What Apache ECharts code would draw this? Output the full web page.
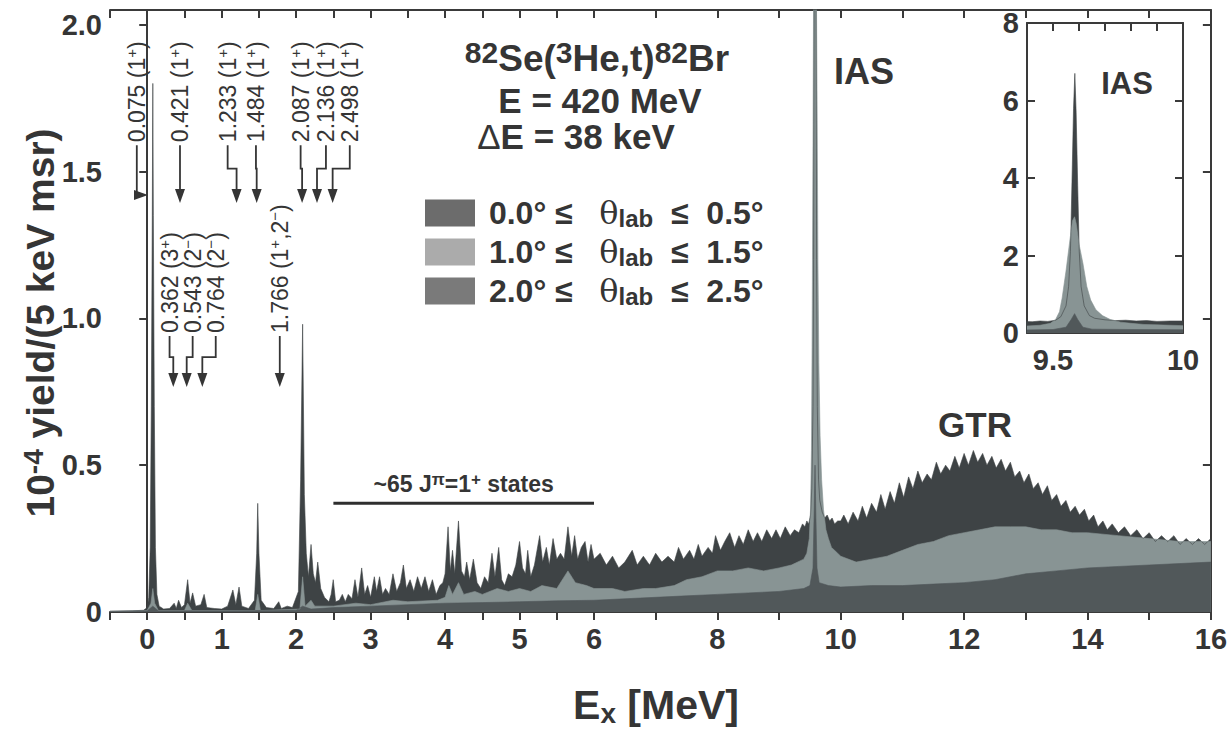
<!DOCTYPE html>
<html>
<head>
<meta charset="utf-8">
<script src="https://cdn.jsdelivr.net/npm/echarts@6/dist/echarts.min.js"></script>
<style>html,body{margin:0;background:#fff}#chart{width:1230px;height:730px}</style>
</head>
<body>
<div id="chart"></div>
<script>
// 82Se(3He,t)82Br spectra, three angle cuts, [Ex MeV, yield in 1e-4 /(5 keV msr)]
var angleBins = ['0.0° ≤ θlab ≤ 0.5°', '1.0° ≤ θlab ≤ 1.5°', '2.0° ≤ θlab ≤ 2.5°'];

var yield00 = [
  [-0.5,0.003],[-0.2,0.004],[-0.05,0.006],[0.0,0.015],[0.02,0.05],[0.04,0.22],[0.055,0.7],[0.068,1.35],[0.075,1.8],[0.082,1.35],[0.095,0.7],[0.11,0.22],[0.13,0.06],[0.16,0.02],[0.22,0.01],[0.3,0.012],
  [0.362,0.03],[0.39,0.012],[0.421,0.04],[0.46,0.015],[0.5,0.025],[0.543,0.11],[0.575,0.03],[0.61,0.065],[0.65,0.02],[0.72,0.025],[0.764,0.06],[0.8,0.015],[0.9,0.012],[1.0,0.01],[1.08,0.02],
  [1.15,0.075],[1.19,0.025],[1.233,0.085],[1.27,0.02],[1.36,0.012],[1.44,0.04],[1.47,0.2],[1.484,0.37],[1.5,0.2],[1.53,0.04],[1.6,0.015],[1.7,0.012],[1.766,0.035],[1.8,0.012],[1.88,0.02],
  [1.95,0.015],[2.03,0.07],[2.06,0.45],[2.087,0.98],[2.11,0.4],[2.136,0.2],[2.165,0.12],[2.2,0.23],[2.23,0.13],[2.26,0.1],[2.29,0.17],[2.33,0.08],[2.38,0.05],[2.44,0.035],[2.47,0.06],
  [2.498,0.11],[2.53,0.035],[2.58,0.04],[2.62,0.06],[2.66,0.035],[2.7,0.06],[2.75,0.045],[2.79,0.11],[2.83,0.05],[2.88,0.15],[2.92,0.06],[2.96,0.09],[3.0,0.05],[3.05,0.12],[3.08,0.07],
  [3.12,0.12],[3.16,0.06],[3.2,0.08],[3.25,0.06],[3.3,0.13],[3.35,0.07],[3.4,0.1],[3.44,0.16],[3.48,0.08],[3.53,0.11],[3.58,0.07],[3.63,0.12],[3.68,0.08],[3.73,0.12],[3.78,0.07],[3.83,0.11],
  [3.88,0.06],[3.93,0.09],[3.97,0.1],[4.0,0.13],[4.04,0.29],[4.07,0.14],[4.1,0.21],[4.13,0.13],[4.18,0.31],[4.22,0.14],[4.26,0.12],[4.29,0.17],[4.33,0.11],[4.38,0.18],[4.43,0.1],[4.48,0.08],
  [4.53,0.12],[4.58,0.1],[4.63,0.2],[4.67,0.12],[4.72,0.22],[4.76,0.11],[4.8,0.09],[4.85,0.13],[4.9,0.12],[4.95,0.16],[5.0,0.24],[5.04,0.15],[5.08,0.13],[5.11,0.21],[5.15,0.12],[5.2,0.16],
  [5.27,0.26],[5.31,0.17],[5.36,0.22],[5.4,0.16],[5.45,0.25],[5.5,0.18],[5.55,0.2],[5.6,0.18],[5.65,0.29],[5.7,0.19],[5.74,0.26],[5.78,0.18],[5.83,0.22],[5.88,0.24],[5.92,0.17],[5.96,0.23],
  [6.0,0.18],[6.1,0.2],[6.2,0.16],[6.3,0.19],[6.4,0.15],[6.5,0.17],[6.62,0.21],[6.7,0.16],[6.8,0.19],[6.9,0.16],[7.0,0.2],[7.1,0.17],[7.2,0.19],[7.3,0.17],[7.37,0.22],[7.45,0.18],[7.55,0.21],
  [7.62,0.18],[7.69,0.23],[7.75,0.19],[7.85,0.22],[7.92,0.2],[7.97,0.26],[8.05,0.21],[8.12,0.24],[8.2,0.27],[8.28,0.22],[8.35,0.26],[8.42,0.23],[8.5,0.28],[8.58,0.24],[8.65,0.27],[8.72,0.24],
  [8.8,0.28],[8.88,0.25],[8.95,0.28],[9.02,0.25],[9.1,0.29],[9.18,0.26],[9.25,0.28],[9.32,0.27],[9.38,0.3],[9.42,0.29],[9.45,0.31],[9.48,0.3],[9.51,0.33],[9.53,0.42],[9.55,0.7],[9.56,1.2],
  [9.567,2.1],[9.573,3.9],[9.579,5.8],[9.584,6.7],[9.589,5.7],[9.595,3.8],[9.601,2.1],[9.608,1.2],[9.62,0.7],[9.64,0.45],[9.66,0.38],[9.7,0.34],[9.74,0.32],[9.78,0.33],[9.82,0.31],[9.86,0.32],
  [9.9,0.3],[9.95,0.31],[10.0,0.31],[10.05,0.33],[10.12,0.3],[10.2,0.34],[10.28,0.31],[10.35,0.36],[10.42,0.32],[10.5,0.37],[10.58,0.34],[10.65,0.4],[10.72,0.35],[10.8,0.41],[10.87,0.37],
  [10.95,0.44],[11.02,0.39],[11.1,0.46],[11.17,0.42],[11.25,0.48],[11.32,0.44],[11.4,0.47],[11.47,0.45],[11.55,0.51],[11.62,0.47],[11.7,0.5],[11.77,0.48],[11.85,0.53],[11.92,0.49],[12.0,0.54],
  [12.07,0.5],[12.15,0.55],[12.22,0.51],[12.3,0.54],[12.37,0.5],[12.45,0.53],[12.52,0.49],[12.6,0.52],[12.67,0.48],[12.75,0.51],[12.82,0.46],[12.9,0.48],[12.97,0.44],[13.05,0.47],[13.12,0.42],
  [13.2,0.44],[13.27,0.4],[13.35,0.43],[13.42,0.38],[13.5,0.4],[13.57,0.36],[13.65,0.38],[13.72,0.34],[13.8,0.36],[13.87,0.33],[13.95,0.35],[14.02,0.31],[14.1,0.33],[14.17,0.29],[14.25,0.31],
  [14.32,0.28],[14.4,0.3],[14.5,0.27],[14.6,0.29],[14.7,0.26],[14.8,0.28],[14.9,0.25],[15.0,0.27],[15.1,0.24],[15.2,0.26],[15.3,0.24],[15.4,0.26],[15.5,0.23],[15.6,0.25],[15.7,0.23],[15.8,0.25],
  [15.9,0.23],[16.0,0.25]
];

var yield10 = [
  [-0.5,0.002],[0.0,0.005],[0.05,0.03],[0.075,0.08],[0.1,0.03],[0.15,0.005],[0.5,0.005],[0.543,0.03],[0.6,0.005],[1.45,0.005],[1.484,0.06],[1.52,0.005],[2.05,0.01],[2.087,0.12],[2.12,0.02],
  [2.2,0.04],[2.25,0.02],[2.5,0.02],[2.8,0.03],[3.0,0.025],[3.3,0.04],[3.5,0.035],[3.9,0.04],[4.0,0.05],[4.05,0.09],[4.1,0.06],[4.18,0.1],[4.25,0.06],[4.4,0.07],[4.5,0.06],[4.7,0.08],
  [4.85,0.07],[5.0,0.08],[5.15,0.07],[5.3,0.09],[5.5,0.08],[5.65,0.14],[5.75,0.1],[5.9,0.09],[6.0,0.08],[6.3,0.08],[6.5,0.07],[6.8,0.08],[7.0,0.08],[7.3,0.09],[7.5,0.11],[7.75,0.12],
  [8.0,0.14],[8.25,0.14],[8.5,0.15],[8.75,0.14],[9.0,0.15],[9.2,0.16],[9.4,0.18],[9.45,0.2],[9.49,0.25],[9.51,0.35],[9.525,0.55],[9.535,0.9],[9.55,1.6],[9.565,2.4],[9.575,2.9],[9.583,3.0],
  [9.59,2.8],[9.6,2.3],[9.615,1.8],[9.63,1.2],[9.645,0.85],[9.665,0.6],[9.69,0.45],[9.72,0.35],[9.76,0.28],[9.8,0.25],[9.85,0.22],[9.9,0.21],[9.95,0.2],[10.0,0.19],[10.25,0.17],[10.5,0.18],
  [10.75,0.19],[11.0,0.21],[11.25,0.23],[11.5,0.24],[11.75,0.26],[12.0,0.27],[12.25,0.28],[12.5,0.29],[12.75,0.29],[13.0,0.29],[13.25,0.28],[13.5,0.28],[13.75,0.27],[14.0,0.27],[14.5,0.26],
  [15.0,0.25],[15.5,0.24],[16.0,0.24]
];

var yield20 = [
  [-0.5,0.001],[0.0,0.004],[0.075,0.02],[0.15,0.004],[1.0,0.004],[2.0,0.006],[2.087,0.02],[2.2,0.01],[2.5,0.015],[3.0,0.02],[3.5,0.025],[4.0,0.03],[4.5,0.032],[5.0,0.035],[5.5,0.038],
  [6.0,0.04],[6.5,0.045],[7.0,0.05],[7.5,0.055],[8.0,0.06],[8.5,0.065],[9.0,0.07],[9.4,0.08],[9.5,0.09],[9.55,0.15],[9.57,0.35],[9.583,0.5],[9.595,0.35],[9.615,0.15],[9.65,0.1],[9.8,0.09],
  [10.0,0.085],[10.5,0.09],[11.0,0.09],[11.5,0.095],[12.0,0.1],[12.5,0.11],[13.0,0.13],[13.5,0.14],[14.0,0.15],[14.5,0.155],[15.0,0.16],[15.5,0.165],[16.0,0.17]
];

// arrow annotations (energies of text column and arrow tip)
var upperLabels = ['0.075', '0.421', '1.233', '1.484', '2.087', '2.136', '2.498'];
var upperSpins = ['1+', '1+', '1+', '1+', '1+', '1+', '1+'];
var upperTextE = [-0.14, 0.44, 1.08, 1.46, 2.06, 2.40, 2.72];
var upperTipE = [0.01, 0.44, 1.2, 1.47, 2.08, 2.28, 2.49];
var lowerLabels = ['0.362', '0.543', '0.764', '1.766'];
var lowerSpins = ['3+', '2−', '2−', '1+,2−'];
var lowerTextE = [0.30, 0.61, 0.92, 1.78];
var lowerTipE = [0.35, 0.53, 0.74, 1.78];

var FONT = "'Liberation Sans', Arial, sans-serif";
var INK = '#353535';
var fills = ['#3e4345', '#889494', '#51585a'];
var swatches = ['#6c6c6c', '#ababab', '#7a7a7a'];
var allData = [yield00, yield10, yield20];

var chart = echarts.init(document.getElementById('chart'), null, {renderer: 'svg'});

function slice(data, lo, hi) {
  var out = [];
  for (var i = 0; i < data.length; i++) {
    var e = data[i][0];
    var prev = i > 0 ? data[i - 1][0] : -Infinity;
    var next = i < data.length - 1 ? data[i + 1][0] : Infinity;
    if ((e >= lo && e <= hi) || (e < lo && next > lo) || (e > hi && prev < hi)) out.push(data[i]);
  }
  return out;
}

var panels = [
  {xi: 0, yi: 0, lo: -0.5, hi: 6},
  {xi: 1, yi: 1, lo: 6, hi: 16},
  {xi: 4, yi: 2, lo: 9.4, hi: 10}
];
var series = [];
panels.forEach(function (p) {
  allData.forEach(function (d, k) {
    series.push({
      name: angleBins[k], type: 'line', xAxisIndex: p.xi, yAxisIndex: p.yi,
      data: slice(d, p.lo, p.hi), symbol: 'none', showSymbol: false, clip: true,
      sampling: null, silent: true, z: 3,
      lineStyle: {width: 0.6, color: fills[k]},
      itemStyle: {color: fills[k]},
      areaStyle: {color: fills[k], opacity: 1}
    });
  });
});

var lineCol = {color: '#3a3a3a', width: 2};
var labelBase = {fontSize: 29, fontWeight: 'bold', color: INK, fontFamily: FONT};

function xAx(grid, min, max, step, pos, fmt) {
  return {
    type: 'value', gridIndex: grid, min: min, max: max, interval: step, position: pos,
    axisLine: {show: true, onZero: false, lineStyle: lineCol},
    axisTick: {show: true, inside: pos === 'top' || grid === 2, length: 8, lineStyle: lineCol},
    axisLabel: fmt ? Object.assign({formatter: fmt, margin: 12}, labelBase) : {show: false},
    splitLine: {show: false}
  };
}

var option = {
  animation: false,
  backgroundColor: '#fff',
  grid: [
    {left: 110, top: 10, width: 484, height: 602},
    {left: 594, top: 10, width: 630, height: 602},
    {left: 1027, top: 23, width: 156, height: 310}
  ],
  legend: {
    orient: 'vertical', left: 425, top: 197, padding: 0, itemWidth: 50, itemHeight: 27, itemGap: 6,
    selectedMode: false, icon: 'rect',
    data: angleBins.map(function (n, i) { return {name: n, itemStyle: {color: swatches[i]}}; }),
    formatter: function (n) {
      var m = n.split('θlab');
      return '{b| ' + m[0] + '  }{t|θ}{s|lab}{b|  ' + m[1].trim().replace('≤ ', '≤  ') + '}';
    },
    textStyle: {
      fontFamily: FONT, color: INK,
      rich: {
        b: {fontSize: 32, fontWeight: 'bold', color: INK, fontFamily: FONT, lineHeight: 34},
        t: {fontSize: 32, fontFamily: "'DejaVu Serif', serif", color: INK, lineHeight: 34},
        s: {fontSize: 24, fontWeight: 'bold', color: INK, fontFamily: FONT, verticalAlign: 'bottom', lineHeight: 24}
      }
    }
  },
  xAxis: [
    xAx(0, -0.5, 6, 0.5, 'bottom', function (v) { return (v >= 0 && Math.abs(v - Math.round(v)) < 1e-6) ? String(Math.round(v)) : ''; }),
    xAx(1, 6, 16, 1, 'bottom', function (v) { return (v >= 8 && Math.round(v) % 2 === 0) ? String(Math.round(v)) : ''; }),
    xAx(0, -0.5, 6, 0.5, 'top', null),
    xAx(1, 6, 16, 1, 'top', null),
    xAx(2, 9.4, 10, 0.1, 'bottom', function (v) {
      if (Math.abs(v - 9.5) < 1e-6) return '9.5';
      if (Math.abs(v - 10) < 1e-6) return '10';
      return '';
    }),
    xAx(2, 9.4, 10, 0.1, 'top', null)
  ],
  yAxis: [
    {
      type: 'value', gridIndex: 0, min: 0, max: 2.05, interval: 0.5, position: 'left',
      axisLine: {show: true, lineStyle: lineCol},
      axisTick: {show: true, length: 8, lineStyle: lineCol},
      axisLabel: Object.assign({margin: 8, formatter: function (v) {
        if (Math.abs(v * 2 - Math.round(v * 2)) > 1e-6) return '';
        return v === 0 ? '0' : v.toFixed(1);
      }}, labelBase),
      splitLine: {show: false}
    },
    {
      type: 'value', gridIndex: 1, min: 0, max: 2.05, interval: 0.5, position: 'right',
      axisLine: {show: true, lineStyle: lineCol},
      axisTick: {show: true, inside: true, length: 8, lineStyle: lineCol},
      axisLabel: {show: false}, splitLine: {show: false}
    },
    {
      type: 'value', gridIndex: 2, min: 0, max: 8, interval: 2, position: 'left',
      axisLine: {show: true, lineStyle: lineCol},
      axisTick: {show: true, inside: true, length: 8, lineStyle: lineCol},
      axisLabel: Object.assign({margin: 8}, labelBase),
      splitLine: {show: false}
    },
    {
      type: 'value', gridIndex: 2, min: 0, max: 8, interval: 2, position: 'right',
      axisLine: {show: true, lineStyle: lineCol},
      axisTick: {show: true, inside: true, length: 8, lineStyle: lineCol},
      axisLabel: {show: false}, splitLine: {show: false}
    }
  ],
  series: series
};

chart.setOption(option);

// ---- annotations, placed through the axes ----
function px(E) { return chart.convertToPixel({xAxisIndex: E <= 6 ? 0 : 1}, E); }
function py(v) { return chart.convertToPixel({yAxisIndex: 0}, v); }

var g = [];
function txt(x, y, text, rich, extra) {
  g.push({type: 'text', x: x, y: y, silent: true, z: 20,
    style: Object.assign({text: text, rich: rich, fill: INK, fontFamily: FONT}, extra || {})});
}
var smallRich = {
  n: {fontSize: 23, fontFamily: FONT, fill: INK, color: INK, lineHeight: 26},
  p: {fontSize: 15, fontFamily: FONT, fill: INK, color: INK, verticalAlign: 'top', lineHeight: 16}
};
function stateText(lbl, spin) {
  return '{n|' + lbl + ' (' + spin.replace(/([+−])/g, '}{p|$1}{n|') + ')}';
}
function vtext(E, v, lbl, spin) {
  g.push({type: 'text', x: px(E), y: py(v), rotation: Math.PI / 2, silent: true, z: 20,
    style: {text: stateText(lbl, spin), rich: smallRich, fill: INK, fontFamily: FONT, fontSize: 23,
      align: 'left', verticalAlign: 'middle'}});
}
function arrow(pts, dir) {
  var t = pts[pts.length - 1];
  var body = pts.slice(0, -1);
  if (dir === 'down') body.push([t[0], t[1] - 10]); else body.push([t[0] - 10, t[1]]);
  g.push({type: 'polyline', silent: true, z: 20, shape: {points: body}, style: {stroke: INK, lineWidth: 1.8, fill: null}});
  var head = dir === 'down'
    ? [[t[0] - 5, t[1] - 14], [t[0] + 5, t[1] - 14], [t[0], t[1]]]
    : [[t[0] - 14, t[1] - 5], [t[0] - 14, t[1] + 5], [t[0], t[1]]];
  g.push({type: 'polygon', silent: true, z: 20, shape: {points: head}, style: {fill: INK}});
}

var upBase = 1.60, upJog = 1.51, upTip = 1.393, hLevel = 1.42;
upperLabels.forEach(function (l, i) {
  vtext(upperTextE[i], upBase, l, upperSpins[i]);
  var x0 = px(upperTextE[i]), x1 = px(upperTipE[i]);
  if (i === 0) {
    arrow([[x0, py(upBase) + 3], [x0, py(hLevel)], [x1, py(hLevel)]], 'right');
  } else {
    arrow([[x0, py(upBase) + 3], [x0, py(upJog)], [x1, py(upJog)], [x1, py(upTip)]], 'down');
  }
});
var loBase = 0.95, loJog = 0.868, loTip = 0.766;
lowerLabels.forEach(function (l, i) {
  vtext(lowerTextE[i], loBase, l, lowerSpins[i]);
  var x0 = px(lowerTextE[i]), x1 = px(lowerTipE[i]);
  arrow([[x0, py(loBase) + 3], [x0, py(loJog)], [x1, py(loJog)], [x1, py(loTip)]], 'down');
});

// reaction / beam text
txt(597, 58, '{p|82}{m|Se(}{p|3}{m|He,t)}{p|82}{m|Br}', {
  m: {fontSize: 37, fontWeight: 'bold', fontFamily: FONT, fill: INK, lineHeight: 42},
  p: {fontSize: 30, fontWeight: 'bold', fontFamily: FONT, fill: INK, verticalAlign: 'top', lineHeight: 32}
}, {align: 'center', verticalAlign: 'middle'});
txt(600, 100, 'E = 420 MeV', null, {fontSize: 35, fontWeight: 'bold', align: 'center', verticalAlign: 'middle'});
txt(576, 136, '{d|Δ}{m|E = 38 keV}', {
  d: {fontSize: 35, fontFamily: FONT, fill: INK},
  m: {fontSize: 35, fontWeight: 'bold', fontFamily: FONT, fill: INK}
}, {align: 'center', verticalAlign: 'middle'});

txt(834, 71, 'IAS', null, {fontSize: 36, fontWeight: 'bold', align: 'left', verticalAlign: 'middle'});
txt(975, 424, 'GTR', null, {fontSize: 35, fontWeight: 'bold', align: 'center', verticalAlign: 'middle'});
txt(1127, 83, 'IAS', null, {fontSize: 31, fontWeight: 'bold', align: 'center', verticalAlign: 'middle'});

// ~65 1+ states bar
var sv = 0.37;
g.push({type: 'line', silent: true, z: 20, shape: {x1: px(2.5), y1: py(sv), x2: px(6.0), y2: py(sv)}, style: {stroke: '#2e2e2e', lineWidth: 3}});
txt((px(2.5) + px(6.0)) / 2, py(sv) - 19, '{b|~65 J}{p|π}{b|=1}{p|+}{b| states}', {
  b: {fontSize: 23, fontWeight: 'bold', fontFamily: FONT, fill: INK, lineHeight: 26},
  p: {fontSize: 17, fontWeight: 'bold', fontFamily: FONT, fill: INK, verticalAlign: 'top', lineHeight: 18}
}, {align: 'center', verticalAlign: 'middle'});

// axis titles
g.push({type: 'text', x: 40, y: 323, rotation: Math.PI / 2, silent: true, z: 20,
  style: {text: '{m|10}{p|-4}{m| yield/(5 keV msr)}', fill: INK, fontFamily: FONT, align: 'center', verticalAlign: 'middle',
    rich: {
      m: {fontSize: 39, fontWeight: 'bold', fill: INK, fontFamily: FONT, lineHeight: 42},
      p: {fontSize: 28, fontWeight: 'bold', fill: INK, fontFamily: FONT, verticalAlign: 'top', lineHeight: 30}
    }}});
txt(656, 705, '{m|E}{s|x}{m| [MeV]}', {
  m: {fontSize: 41, fontWeight: 'bold', fontFamily: FONT, fill: INK, lineHeight: 44},
  s: {fontSize: 28, fontWeight: 'bold', fontFamily: FONT, fill: INK, verticalAlign: 'bottom', lineHeight: 26}
}, {align: 'center', verticalAlign: 'middle'});

chart.setOption({graphic: g});
</script>
</body>
</html>
